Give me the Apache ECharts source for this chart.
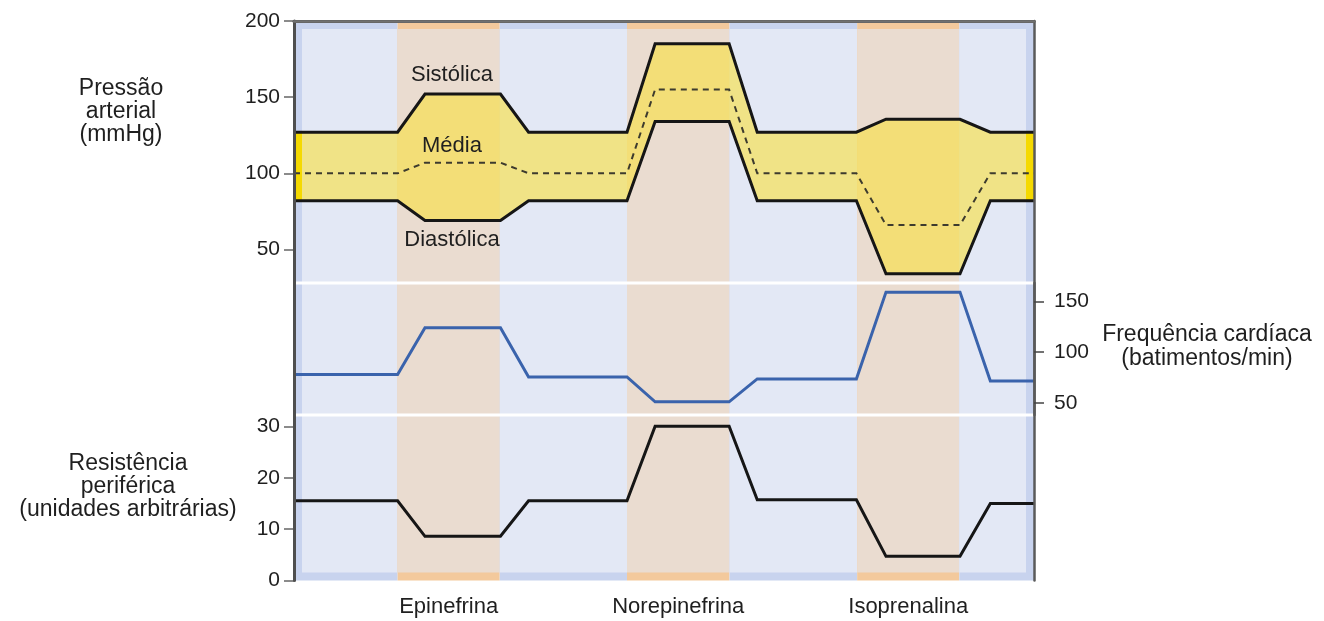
<!DOCTYPE html>
<html>
<head>
<meta charset="utf-8">
<script src="https://cdn.jsdelivr.net/npm/echarts@6/dist/echarts.min.js"></script>
<style>
  html, body { margin: 0; padding: 0; background: #fff; }
  #chart1 { width: 1324px; height: 621px; }
</style>
</head>
<body>
<div id="chart1"></div>
<script>
(function(){

    // time axis (arbitrary units, 0..100) and the values at each breakpoint
    var timePts    = [0, 14, 17.7, 27.9, 31.7, 45, 48.8, 58.8, 62.6, 76, 80, 90, 94.1, 100];
    var systolic   = [127, 127, 152, 152, 127, 127, 185, 185, 127, 127, 135.5, 135.5, 127, 127];
    var mean       = [100, 100, 107, 107, 100, 100, 155, 155, 100, 100, 66, 66, 100, 100];
    var diastolic  = [82, 82, 69, 69, 82, 82, 134, 134, 82, 82, 34, 34, 82, 82];
    var heartRate  = [78, 78, 124, 124, 75.5, 75.5, 51, 51, 73.5, 73.5, 159, 159, 71.5, 71.5];
    var resistance = [15.5, 15.5, 8.6, 8.6, 15.5, 15.5, 30, 30, 15.7, 15.7, 4.7, 4.7, 15, 15];

    // control / drug periods
    var bandEdges = [0, 14, 27.8, 45, 58.85, 76.1, 89.9, 100];
    var bandKinds = ['ctrl', 'drug', 'ctrl', 'drug', 'ctrl', 'drug', 'ctrl'];
    var drugNames = ['Epinefrina', 'Norepinefrina', 'Isoprenalina'];

    var pressTicks = [50, 100, 150, 200];
    var hrTicks    = [50, 100, 150];
    var resTicks   = [0, 10, 20, 30];

    // layout
    var GL = 294, GW = 740, GT = 21;
    var PRESS_H = 262, HR_H = 132, RES_H = 165.5;
    var BG_H = PRESS_H + HR_H + RES_H;
    var INSET = 8;
    var FONT = 'Liberation Sans, Arial, Helvetica, sans-serif';
    var TXT = '#1f1f1f';
    var TITLE_FONT = '23px ' + FONT;

    var bandColors = {
        ctrl: { outer: '#c8d3ee', inner: '#e3e8f5' },
        drug: { outer: '#f3c99c', inner: '#eadcd0' }
    };

    var bandData = [];
    for (var i = 0; i < bandKinds.length; i++) {
        bandData.push([bandEdges[i], bandEdges[i + 1], i]);
    }
    var drugCenters = [];
    for (var j = 0; j < bandKinds.length; j++) {
        if (bandKinds[j] == 'drug') drugCenters.push((bandEdges[j] + bandEdges[j + 1]) / 2);
    }

    function pairs(vals){
        return timePts.map(function(t, k){ return [t, vals[k]]; });
    }

    var chart1 = echarts.init(document.getElementById('chart1'));

    var option = {
        animation: false,
        backgroundColor: '#fff',
        textStyle: { fontFamily: FONT },
        grid: [
            { left: GL, top: GT, width: GW, height: BG_H },
            { left: GL, top: GT, width: GW, height: PRESS_H },
            { left: GL, top: GT + PRESS_H, width: GW, height: HR_H },
            { left: GL, top: GT + PRESS_H + HR_H, width: GW, height: RES_H }
        ],
        xAxis: [
            {
                gridIndex: 0, type: 'value', min: 0, max: 100, z: 6,
                axisLine: { show: true, lineStyle: { color: '#4e4e4e', width: 3 } },
                axisTick: { show: false },
                splitLine: { show: false },
                axisLabel: {
                    customValues: drugCenters,
                    margin: 15,
                    fontSize: 22, color: TXT, fontFamily: FONT,
                    formatter: function(v){
                        var best = 0;
                        for (var k = 1; k < drugCenters.length; k++) {
                            if (Math.abs(drugCenters[k] - v) < Math.abs(drugCenters[best] - v)) best = k;
                        }
                        return drugNames[best];
                    }
                }
            },
            {
                gridIndex: 0, type: 'value', min: 0, max: 100, position: 'top', z: 6,
                axisLine: { show: true, lineStyle: { color: '#707070', width: 2.5 } },
                axisTick: { show: false }, axisLabel: { show: false }, splitLine: { show: false }
            },
            { gridIndex: 1, type: 'value', min: 0, max: 100, show: false },
            { gridIndex: 2, type: 'value', min: 0, max: 100, show: false },
            { gridIndex: 3, type: 'value', min: 0, max: 100, show: false }
        ],
        yAxis: [
            {
                gridIndex: 0, type: 'value', min: 0, max: BG_H, inverse: true, z: 6,
                axisLine: { show: true, lineStyle: { color: '#4e4e4e', width: 3 } },
                axisTick: { show: false }, axisLabel: { show: false }, splitLine: { show: false }
            },
            {
                gridIndex: 0, type: 'value', min: 0, max: BG_H, inverse: true, position: 'right', z: 6,
                axisLine: { show: true, onZero: false, lineStyle: { color: '#5a5a5a', width: 2.5 } },
                axisTick: { show: false }, axisLabel: { show: false }, splitLine: { show: false }
            },
            {
                gridIndex: 1, type: 'value', min: 28, max: 200,
                axisLine: { show: false },
                axisTick: { show: true, customValues: pressTicks, length: 10, lineStyle: { color: '#666', width: 1.5 } },
                axisLabel: { customValues: pressTicks, margin: 14, fontSize: 21, color: TXT, fontFamily: FONT },
                splitLine: { show: false }
            },
            {
                gridIndex: 2, type: 'value', min: 38, max: 168, position: 'right', z: 6,
                axisLine: { show: true, onZero: false, lineStyle: { color: '#5a5a5a', width: 2.5 } },
                axisTick: { show: true, inside: false, customValues: hrTicks, length: 10, lineStyle: { color: '#444', width: 1.5 } },
                axisLabel: { customValues: hrTicks, margin: 20, fontSize: 21, color: TXT, fontFamily: FONT },
                splitLine: { show: false }
            },
            {
                gridIndex: 3, type: 'value', min: 0, max: 32.2, interval: 10,
                axisLine: { show: false },
                axisTick: { show: true, length: 10, lineStyle: { color: '#666', width: 1.5 } },
                axisLabel: { margin: 14, fontSize: 21, color: TXT, fontFamily: FONT, showMaxLabel: false },
                splitLine: { show: false }
            }
        ],
        series: [
            {
                // background periods
                type: 'custom', xAxisIndex: 0, yAxisIndex: 0, z: 1, silent: true,
                data: bandData,
                renderItem: function(params, api){
                    var cs = params.coordSys;
                    var kind = bandKinds[api.value(2)];
                    var x0 = api.coord([api.value(0), 0])[0];
                    var x1 = api.coord([api.value(1), 0])[0];
                    var ix0 = Math.max(x0, cs.x + INSET);
                    var ix1 = Math.min(x1, cs.x + cs.width - INSET);
                    return {
                        type: 'group',
                        children: [
                            { type: 'rect', shape: { x: x0, y: cs.y, width: x1 - x0, height: cs.height },
                              style: { fill: bandColors[kind].outer } },
                            { type: 'rect', shape: { x: ix0, y: cs.y + INSET, width: ix1 - ix0, height: cs.height - 2 * INSET },
                              style: { fill: bandColors[kind].inner } }
                        ]
                    };
                }
            },
            {
                // yellow band between systolic and diastolic
                type: 'custom', xAxisIndex: 2, yAxisIndex: 2, z: 2, silent: true,
                data: [[0]],
                renderItem: function(params, api){
                    var pts = [];
                    for (var k = 0; k < timePts.length; k++) pts.push(api.coord([timePts[k], systolic[k]]));
                    for (var m = timePts.length - 1; m >= 0; m--) pts.push(api.coord([timePts[m], diastolic[m]]));
                    var n = timePts.length - 1;
                    var lTop = api.coord([timePts[0], systolic[0]]), lBot = api.coord([timePts[0], diastolic[0]]);
                    var rTop = api.coord([timePts[n], systolic[n]]), rBot = api.coord([timePts[n], diastolic[n]]);
                    return {
                        type: 'group',
                        children: [
                            { type: 'polygon', shape: { points: pts }, style: { fill: 'rgba(248,224,60,0.6)' } },
                            { type: 'rect', shape: { x: lTop[0], y: lTop[1], width: INSET, height: lBot[1] - lTop[1] },
                              style: { fill: '#f5d900' } },
                            { type: 'rect', shape: { x: rTop[0] - INSET, y: rTop[1], width: INSET, height: rBot[1] - rTop[1] },
                              style: { fill: '#f5d900' } }
                        ]
                    };
                }
            },
            {
                // white separators between the panels
                type: 'custom', xAxisIndex: 0, yAxisIndex: 0, z: 3, silent: true,
                data: [[PRESS_H], [PRESS_H + HR_H]],
                renderItem: function(params, api){
                    var a = api.coord([0, api.value(0)]);
                    var b = api.coord([100, api.value(0)]);
                    return { type: 'line', shape: { x1: a[0], y1: a[1], x2: b[0], y2: b[1] },
                             style: { stroke: '#ffffff', lineWidth: 3 } };
                }
            },
            {
                name: 'Sistólica', type: 'line', xAxisIndex: 2, yAxisIndex: 2, z: 5,
                data: pairs(systolic), symbol: 'none',
                lineStyle: { color: '#161616', width: 3, join: 'miter' }
            },
            {
                name: 'Média', type: 'line', xAxisIndex: 2, yAxisIndex: 2, z: 5,
                data: pairs(mean), symbol: 'none',
                lineStyle: { color: '#3d3b2e', width: 2, type: [6, 5], join: 'miter' }
            },
            {
                name: 'Diastólica', type: 'line', xAxisIndex: 2, yAxisIndex: 2, z: 5,
                data: pairs(diastolic), symbol: 'none',
                lineStyle: { color: '#161616', width: 3, join: 'miter' }
            },
            {
                name: 'Frequência cardíaca', type: 'line', xAxisIndex: 3, yAxisIndex: 3, z: 5,
                data: pairs(heartRate), symbol: 'none',
                lineStyle: { color: '#3a63ac', width: 3, join: 'miter' }
            },
            {
                name: 'Resistência periférica', type: 'line', xAxisIndex: 4, yAxisIndex: 4, z: 5,
                data: pairs(resistance), symbol: 'none',
                lineStyle: { color: '#161616', width: 3, join: 'miter' }
            }
        ],
        graphic: [
            { type: 'text', x: 121, y: 112, z: 10,
              style: { text: 'Pressão\narterial\n(mmHg)', fill: TXT, font: TITLE_FONT, lineHeight: 23,
                       textAlign: 'center', textVerticalAlign: 'middle' } },
            { type: 'text', x: 128, y: 487, z: 10,
              style: { text: 'Resistência\nperiférica\n(unidades arbitrárias)', fill: TXT, font: TITLE_FONT, lineHeight: 23,
                       textAlign: 'center', textVerticalAlign: 'middle' } },
            { type: 'text', x: 1207, y: 347, z: 10,
              style: { text: 'Frequência cardíaca\n(batimentos/min)', fill: TXT, font: TITLE_FONT, lineHeight: 24,
                       textAlign: 'center', textVerticalAlign: 'middle' } },
            { type: 'text', x: 452, y: 75, z: 10,
              style: { text: 'Sistólica', fill: TXT, font: '22px ' + FONT, textAlign: 'center', textVerticalAlign: 'middle' } },
            { type: 'text', x: 452, y: 146, z: 10,
              style: { text: 'Média', fill: TXT, font: '22px ' + FONT, textAlign: 'center', textVerticalAlign: 'middle' } },
            { type: 'text', x: 452, y: 240, z: 10,
              style: { text: 'Diastólica', fill: TXT, font: '22px ' + FONT, textAlign: 'center', textVerticalAlign: 'middle' } }
        ]
    };

    chart1.setOption(option);
    window.onresize = chart1.resize;

})();
</script>
</body>
</html>
